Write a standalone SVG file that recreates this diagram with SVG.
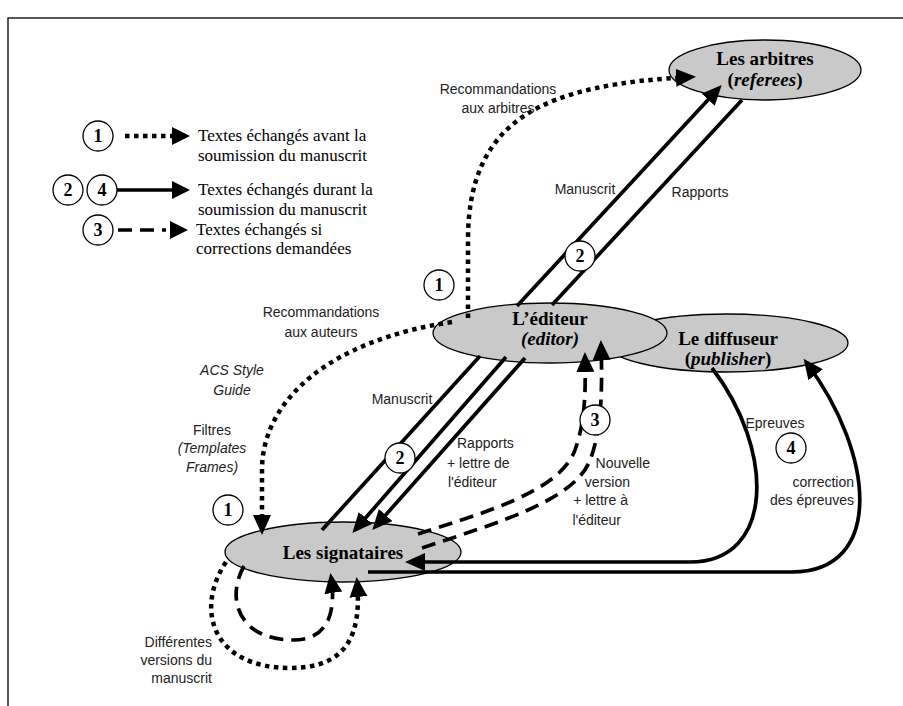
<svg xmlns="http://www.w3.org/2000/svg" width="903" height="706" viewBox="0 0 903 706">
<style>
.node{fill:#c9c9c9;stroke:#000;stroke-width:1.3}
.nt{font-family:"Liberation Serif","Times New Roman",serif;font-weight:bold;font-size:19px;text-anchor:middle;fill:#000}
.ntI{font-style:italic}
.lg{font-family:"Liberation Serif","Times New Roman",serif;font-size:17px;fill:#000}
.lb{font-family:"Liberation Sans",Arial,sans-serif;font-size:14px;fill:#222}
.it{font-style:italic}
.num{fill:#fff;stroke:#000;stroke-width:1.3}
.numt{font-family:"Liberation Serif","Times New Roman",serif;font-weight:bold;font-size:18px;text-anchor:middle;fill:#000}
.solid{fill:none;stroke:#000;stroke-width:3.7}
.dot{fill:none;stroke:#000;stroke-width:4.5;stroke-dasharray:4.5 4.5}
.dash{fill:none;stroke:#000;stroke-width:3.7;stroke-dasharray:14 8}
</style>
<defs>
<marker id="ah" markerUnits="userSpaceOnUse" markerWidth="22" markerHeight="20" refX="16" refY="9" orient="auto">
<path d="M0,0 L20,9 L0,18 z" fill="#000"/>
</marker>
</defs>
<rect width="903" height="706" fill="#fff"/>
<path d="M8,706 L8,18 L903,18" fill="none" stroke="#222" stroke-width="1.5"/>

<g id="legend">
<line x1="125" y1="136" x2="172" y2="136" class="dot"/>
<polygon points="172,127 190,136 172,145" fill="#000"/>
<text class="lg" x="198" y="141">Textes échangés avant la</text>
<text class="lg" x="198" y="161">soumission du manuscrit</text>
<line x1="117" y1="190" x2="172" y2="190" class="solid"/>
<polygon points="172,181 190,190 172,199" fill="#000"/>
<text class="lg" x="198" y="195">Textes échangés durant la</text>
<text class="lg" x="198" y="215">soumission du manuscrit</text>
<line x1="118" y1="230" x2="166" y2="230" class="dash"/>
<polygon points="170,221 188,230 170,239" fill="#000"/>
<text class="lg" x="196" y="235">Textes échangés si</text>
<text class="lg" x="196" y="254">corrections demandées</text>
<circle class="num" cx="98" cy="136" r="15"/><text class="numt" x="98" y="142">1</text>
<circle class="num" cx="68" cy="190" r="15"/><text class="numt" x="68" y="196">2</text>
<circle class="num" cx="102" cy="190" r="15"/><text class="numt" x="102" y="196">4</text>
<circle class="num" cx="98" cy="230" r="15"/><text class="numt" x="98" y="236">3</text>
</g>

<g id="diffuseur">
<ellipse class="node" cx="727" cy="343" rx="121" ry="29"/>
<text class="nt" x="728" y="345">Le diffuseur</text>
<text class="nt" x="728" y="365">(<tspan class="ntI">publisher</tspan>)</text>
</g>
<g id="editeur">
<ellipse class="node" cx="550" cy="333" rx="117" ry="30"/>
<text class="nt" x="550" y="325">L’éditeur</text>
<text class="nt ntI" x="550" y="345">(editor)</text>
</g>
<g id="arbitres">
<ellipse class="node" cx="765" cy="70" rx="96" ry="30"/>
<text class="nt" x="765" y="65">Les arbitres</text>
<text class="nt" x="765" y="86">(<tspan class="ntI">referees</tspan>)</text>
</g>
<g id="signataires">
<ellipse class="node" cx="343" cy="552" rx="118" ry="30"/>
<text class="nt" x="343" y="559">Les signataires</text>
</g>

<g id="connectors">
<path class="dot" d="M468,318 L468,240 C468,118 545,84 692,77" marker-end="url(#ah)"/>
<path class="solid" d="M517,306 L719,88" marker-end="url(#ah)"/>
<path class="solid" d="M742,100 L552,305"/>
<path class="solid" d="M480,356 L322,530"/>
<path class="solid" d="M506,357 L355,530" marker-end="url(#ah)"/>
<path class="solid" d="M525,358 L375,527" marker-end="url(#ah)"/>
<path class="dot" d="M452,322 C330,340 262,400 262,470 L262,531" marker-end="url(#ah)"/>
<path class="dash" d="M418,534 C480,514 560,492 575,450 C584,425 586,400 585,356" marker-end="url(#ah)"/>
<path class="dash" d="M422,548 C500,522 575,500 590,460 C600,435 603,400 601,344" marker-end="url(#ah)"/>
<path class="solid" d="M712,368 C775,450 775,562 690,562 L409,562" marker-end="url(#ah)"/>
<path class="solid" d="M368,572 L792,572 C884,572 876,455 806,362" marker-end="url(#ah)"/>
<path class="dot" d="M226,562 C194,610 213,668 290,668 C347,668 362,635 357,581" marker-end="url(#ah)"/>
<path class="dash" d="M244,566 C225,600 240,640 293,640 C330,640 336,610 331,577" marker-end="url(#ah)"/>
</g>

<g id="labels">
<text class="lb" x="498" y="94" text-anchor="middle">Recommandations</text>
<text class="lb" x="498" y="113" text-anchor="middle">aux arbitres</text>
<text class="lb" x="585" y="194" text-anchor="middle">Manuscrit</text>
<text class="lb" x="700" y="197" text-anchor="middle">Rapports</text>
<text class="lb" x="321" y="317" text-anchor="middle">Recommandations</text>
<text class="lb" x="321" y="337" text-anchor="middle">aux auteurs</text>
<text class="lb it" x="232" y="375" text-anchor="middle">ACS Style</text>
<text class="lb it" x="232" y="395" text-anchor="middle">Guide</text>
<text class="lb" x="212" y="435" text-anchor="middle">Filtres</text>
<text class="lb it" x="212" y="453" text-anchor="middle">(Templates</text>
<text class="lb it" x="212" y="472" text-anchor="middle">Frames)</text>
<text class="lb" x="402" y="404" text-anchor="middle">Manuscrit</text>
<text class="lb" x="457" y="448">Rapports</text>
<text class="lb" x="447" y="468">+ lettre de</text>
<text class="lb" x="448" y="487">l'éditeur</text>
<text class="lb" x="650" y="468" text-anchor="end">Nouvelle</text>
<text class="lb" x="630" y="487" text-anchor="end">version</text>
<text class="lb" x="628" y="505" text-anchor="end">+ lettre à</text>
<text class="lb" x="621" y="525" text-anchor="end">l'éditeur</text>
<text class="lb" x="775" y="428" text-anchor="middle">Epreuves</text>
<text class="lb" x="854" y="487" text-anchor="end">correction</text>
<text class="lb" x="854" y="505" text-anchor="end">des épreuves</text>
<text class="lb" x="212" y="647" text-anchor="end">Différentes</text>
<text class="lb" x="212" y="665" text-anchor="end">versions du</text>
<text class="lb" x="212" y="683" text-anchor="end">manuscrit</text>
</g>

<g id="badges">
<circle class="num" cx="439" cy="285" r="15"/><text class="numt" x="439" y="291">1</text>
<circle class="num" cx="580" cy="256" r="15"/><text class="numt" x="580" y="262">2</text>
<circle class="num" cx="400" cy="458" r="15"/><text class="numt" x="400" y="464">2</text>
<circle class="num" cx="228" cy="510" r="15"/><text class="numt" x="228" y="516">1</text>
<circle class="num" cx="595" cy="420" r="15"/><text class="numt" x="595" y="426">3</text>
<circle class="num" cx="791" cy="448" r="15"/><text class="numt" x="791" y="454">4</text>
</g>
</svg>
